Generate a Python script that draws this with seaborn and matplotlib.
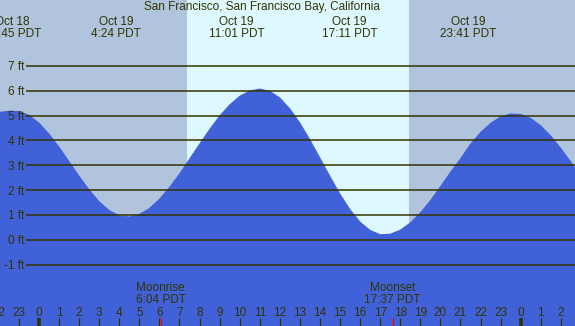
import numpy as np
import pandas as pd
import matplotlib
matplotlib.use("Agg")
import matplotlib.pyplot as plt
import seaborn as sns

# ---------------- data ----------------
title = "San Francisco, San Francisco Bay, California"

# tide heights (ft), read every half hour starting 22:00 Oct 18 (hour -2 relative to Oct 19 00:00)
start_hour = -2.0
step_hours = 0.5
heights = [5.12, 5.17, 5.16, 5.00, 4.69, 4.25, 3.72, 3.14, 2.55, 2.00,
           1.53, 1.18, 0.97, 0.92, 1.02, 1.26, 1.63, 2.10, 2.64, 3.24,
           3.84, 4.43, 4.97, 5.42, 5.77, 5.98, 6.06, 5.97, 5.70, 5.26,
           4.69, 4.01, 3.28, 2.54, 1.83, 1.21, 0.71, 0.38, 0.21, 0.23,
           0.39, 0.68, 1.08, 1.57, 2.13, 2.71, 3.25, 3.84, 4.31, 4.68,
           4.94, 5.06, 5.04, 4.88, 4.58, 4.17, 3.67, 3.12, 2.54]

tide_dates = ["Oct 18", "Oct 19", "Oct 19", "Oct 19", "Oct 19"]
tide_times = ["22:45 PDT", "4:24 PDT", "11:01 PDT", "17:11 PDT", "23:41 PDT"]
tide_hours = [-1.25, 4.40, 11.017, 17.183, 23.683]

moon_names = ["Moonrise", "Moonset"]
moon_times = ["6:04 PDT", "17:37 PDT"]
moon_hours = [6.067, 17.617]

sunrise_hour = 7.367
sunset_hour = 18.433

hour_ticks = list(range(-2, 27))
hour_labels = [str(h % 24) for h in hour_ticks]
midnight_hours = [0, 24]

ft_levels = [-1, 0, 1, 2, 3, 4, 5, 6, 7]
ft_labels = [f"{v} ft" for v in ft_levels]

# ---------------- styling ----------------
NIGHT = "#B0C4DE"
DAY = "#DDF8FF"
WATER = "#4161D8"
INK = "#333300"

sns.set_style("white")
plt.rcParams["font.family"] = ["Liberation Sans", "DejaVu Sans"]

W, H = 575, 326
PX_PER_HOUR = 20.07
X0 = 39.0            # pixel of hour 0
PX_PER_FT = 24.9
Y0 = 240.0           # pixel of 0 ft


def px2t(px):
    return (px - X0) / PX_PER_HOUR


def px2v(py):
    return (Y0 - py) / PX_PER_FT


def t2px(t):
    return X0 + PX_PER_HOUR * t


fig = plt.figure(figsize=(W / 100, H / 100), dpi=100, facecolor=NIGHT)
ax = fig.add_axes([0, 0, 1, 1])
ax.set_facecolor(NIGHT)
ax.set_xlim(px2t(0), px2t(W))
ax.set_ylim(px2v(H), px2v(0))
ax.axis("off")

# daylight band
ax.axvspan(sunrise_hour, sunset_hour, color=DAY, lw=0, zorder=1)

# tide curve
df = pd.DataFrame({"hour": start_hour + step_hours * np.arange(len(heights)),
                   "height": heights})
ax.fill_between(df["hour"], df["height"], px2v(H) - 1, color=WATER, lw=0, zorder=2)
sns.lineplot(data=df, x="hour", y="height", color=WATER, lw=0.8, ax=ax, zorder=3,
             legend=False)
ax.set_xlim(px2t(0), px2t(W))
ax.set_ylim(px2v(H), px2v(0))
ax.axis("off")

# level lines + labels
ax.hlines(ft_levels, px2t(26), px2t(W + 5), color=INK, lw=1.1, zorder=4)
fs = 8.5
for v, lab in zip(ft_levels, ft_labels):
    ax.text(px2t(24.5), v - 4.3 / PX_PER_FT, lab, ha="right", va="baseline",
            fontsize=fs, color=INK, zorder=5)

# title and tide extreme labels (positions compressed by 0.91 like the source)
SQ = 0.91
ax.text(px2t(SQ * W / 2), px2v(10.2), title, ha="center", va="baseline",
        fontsize=fs, color=INK, zorder=5)
for d, tm, h in zip(tide_dates, tide_times, tide_hours):
    xl = px2t(SQ * t2px(h))
    ax.text(xl, px2v(24.5), d, ha="center", va="baseline", fontsize=fs, color=INK, zorder=5)
    ax.text(xl, px2v(36.7), tm, ha="center", va="baseline", fontsize=fs, color=INK, zorder=5)

# moon events
for n, tm, h in zip(moon_names, moon_times, moon_hours):
    ax.text(h, px2v(291.3), n, ha="center", va="baseline", fontsize=fs, color=INK, zorder=5)
    ax.text(h, px2v(303.3), tm, ha="center", va="baseline", fontsize=fs, color=INK, zorder=5)

# hour labels and ticks
for h, lab in zip(hour_ticks, hour_labels):
    ax.text(h, px2v(316), lab, ha="center", va="baseline", fontsize=fs, color=INK, zorder=5)
regular = [h for h in hour_ticks if h not in midnight_hours]
ax.vlines(regular, px2v(H + 2), px2v(318.3), color=INK, lw=0.9, zorder=5)
ax.vlines(midnight_hours, px2v(H + 2), px2v(318.3), color=INK, lw=2.6, zorder=5)
ax.vlines(moon_hours, px2v(H + 2), px2v(318.3), color="#FF0000", lw=0.9, zorder=6)

fig.savefig("out.png", dpi=100, facecolor=NIGHT)
